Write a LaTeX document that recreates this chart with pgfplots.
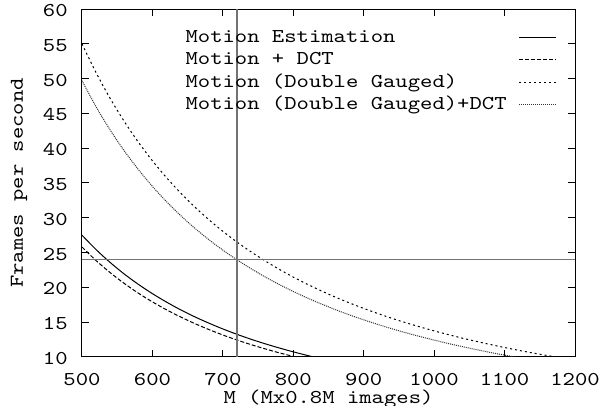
\documentclass[border=0pt]{standalone}
\usepackage{fontspec}
\newfontfamily\cour{lmmono10-regular.otf}[FakeStretch=1.2]
\usepackage{pgfplots}
\pgfplotsset{compat=1.18}
\newcommand{\ff}{\cour\fontsize{9.8}{12}\selectfont}
\begin{document}
\ff
\begin{tikzpicture}
\useasboundingbox (-41pt,-24.5pt) rectangle (259pt,178.5pt);
\begin{axis}[
  at={(0,0)}, anchor=south west,
  scale only axis, width=246.5pt, height=174pt,
  xmin=500, xmax=1200, ymin=10, ymax=60,
  xtick={500,600,...,1200}, ytick={10,15,...,60},
  tick align=inside, major tick length=3.5pt, minor tick num=0,
  axis line style={line width=0.5pt},
  every tick/.style={black, line width=0.5pt},
  /pgf/number format/assume math mode=true,
  /pgf/number format/1000 sep={},
  ticklabel style={font=\ff},
  xticklabel style={anchor=base, inner sep=0pt, yshift=-14.2pt},
  yticklabel style={anchor=east, inner sep=0pt, xshift=-7pt, yshift=-0.75pt},
  xlabel={M (Mx0.8M images)}, ylabel={Frames per second},
  label style={font=\ff},
  xlabel style={at={(axis description cs:0.5,0)}, anchor=base, inner sep=0pt, yshift=-23.4pt},
  ylabel style={at={(axis description cs:0,0.5)}, anchor=base, inner sep=0pt, yshift=29.5pt},
  legend plot pos=right,
  legend cell align=left,
  legend style={at={(rel axis cs:0.9635,0.952)}, anchor=north east, draw=none, fill=none,
    inner sep=0pt, column sep=6pt, row sep=0pt,
    font=\ff,
    nodes={inner sep=0pt, text height=8pt, text depth=3.25pt}},
  legend image code/.code={\draw[#1] (0pt,0pt) -- (18.5pt,0pt);},
  clip=true,
]
\addplot[black, line width=0.5pt, smooth] coordinates {
(500,27.50)(520,25.43)(540,23.58)(560,21.92)(580,20.44)(600,19.10)(620,17.89)(640,16.78)
(660,15.78)(680,14.87)(700,14.03)(720,13.26)(740,12.55)(760,11.90)(780,11.30)(800,10.74)
(820,10.22)(840,9.74)};
\addlegendentry{Motion Estimation}
\addplot[black, line width=0.5pt, smooth, dash pattern=on 2pt off 1pt] coordinates {
(500,25.80)(520,23.85)(540,22.12)(560,20.57)(580,19.17)(600,17.92)(620,16.78)(640,15.75)
(660,14.81)(680,13.95)(700,13.16)(720,12.44)(740,11.78)(760,11.17)(780,10.60)(800,10.08)
(820,9.59)};
\addlegendentry{Motion + DCT}
\addplot[black, line width=0.5pt, smooth, dash pattern=on 1pt off 1.5pt] coordinates {
(500,55.00)(520,50.85)(540,47.15)(560,43.85)(580,40.87)(600,38.19)(620,35.77)(640,33.57)
(660,31.57)(680,29.74)(700,28.06)(720,26.52)(740,25.11)(760,23.81)(780,22.60)(800,21.48)
(820,20.45)(840,19.49)(860,18.59)(880,17.76)(900,16.98)(920,16.25)(940,15.56)(960,14.92)
(980,14.32)(1000,13.75)(1020,13.22)(1040,12.71)(1060,12.24)(1080,11.79)(1100,11.36)
(1120,10.96)(1140,10.58)(1160,10.22)(1180,9.88)};
\addlegendentry{Motion (Double Gauged)}
\addplot[black!80, line width=0.5pt, smooth, dash pattern=on 0.5pt off 0.5pt] coordinates {
(500,49.70)(520,45.95)(540,42.61)(560,39.62)(580,36.94)(600,34.51)(620,32.32)(640,30.33)
(660,28.52)(680,26.87)(700,25.36)(720,23.97)(740,22.69)(760,21.51)(780,20.42)(800,19.41)
(820,18.48)(840,17.61)(860,16.80)(880,16.04)(900,15.34)(920,14.68)(940,14.06)(960,13.48)
(980,12.94)(1000,12.43)(1020,11.94)(1040,11.49)(1060,11.06)(1080,10.65)(1100,10.27)
(1120,9.91)};
\addlegendentry{Motion (Double Gauged)+DCT}
\addplot[black!55, line width=0.6pt, forget plot] coordinates {(500,24)(1200,24)};
\addplot[black!55, line width=0.6pt, forget plot] coordinates {(720,10)(720,60)};
\end{axis}
\end{tikzpicture}
\end{document}
